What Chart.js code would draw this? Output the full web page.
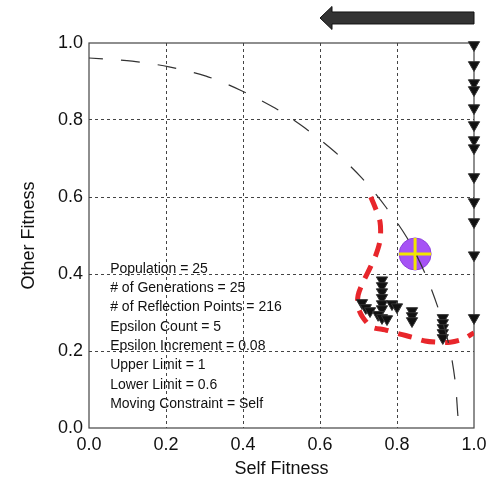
<!DOCTYPE html>
<html>
<head>
<meta charset="utf-8">
<title>Self vs Other Fitness</title>
<script src="https://cdn.jsdelivr.net/npm/chart.js"></script>
<style>
  html, body { margin: 0; padding: 0; background: #fff; }
  canvas { display: block; }
</style>
</head>
<body>
<canvas id="fitnessChart" width="494" height="480"></canvas>
<script>
// dashed black front
const frontX = [0, 0.112, 0.208, 0.304, 0.392, 0.483, 0.561, 0.639, 0.709, 0.771, 0.826, 0.870, 0.906, 0.935, 0.951, 0.958, 0.961];
const frontY = [0.961, 0.953, 0.938, 0.914, 0.878, 0.831, 0.779, 0.717, 0.649, 0.574, 0.494, 0.408, 0.314, 0.216, 0.122, 0.034, 0];

// red dashed trail
const trailX = [0.732, 0.743, 0.756, 0.756, 0.745, 0.730, 0.712, 0.699, 0.699, 0.712, 0.735, 0.769, 0.808, 0.839, 0.873, 0.904, 0.938, 0.971, 1.0];
const trailY = [0.600, 0.574, 0.535, 0.488, 0.449, 0.416, 0.379, 0.345, 0.314, 0.286, 0.262, 0.255, 0.244, 0.236, 0.226, 0.223, 0.223, 0.231, 0.247];

// reflection points (down triangles)
const reflX = [0.761, 0.761, 0.761, 0.761, 0.761, 0.761, 0.709, 0.719, 0.730, 0.751, 0.761, 0.774, 0.787, 0.800, 0.839, 0.839, 0.839,
  0.919, 0.919, 0.919, 0.919, 0.919,
  1, 1, 1, 1, 1, 1, 1, 1, 1, 1, 1, 1, 1];
const reflY = [0.384, 0.369, 0.353, 0.338, 0.322, 0.309, 0.325, 0.312, 0.304, 0.294, 0.286, 0.283, 0.322, 0.314, 0.304, 0.291, 0.278,
  0.286, 0.273, 0.260, 0.247, 0.234,
  0.995, 0.943, 0.896, 0.878, 0.831, 0.787, 0.748, 0.727, 0.652, 0.587, 0.535, 0.449, 0.286];

// target point
const targetX = [0.847];
const targetY = [0.452];

// direction arrow above the plot (data units)
const arrowTail = 1.0;
const arrowTip = 0.6;
const arrowY = 1.065;

const tickValues = [0, 0.2, 0.4, 0.6, 0.8, 1.0];

const infoX = 0.055;
const infoY = 0.403;
const infoLines = [
  'Population = 25',
  '# of Generations = 25',
  '# of Reflection Points = 216',
  'Epsilon Count = 5',
  'Epsilon Increment = 0.08',
  'Upper Limit = 1',
  'Lower Limit = 0.6',
  'Moving Constraint = Self'
];

function zip(xs, ys) {
  return xs.map((x, i) => ({ x: x, y: ys[i] }));
}

const FONT = '"Liberation Sans", Arial, Helvetica, sans-serif';

const framePlugin = {
  id: 'frame',
  beforeDatasetsDraw(chart) {
    const a = chart.chartArea;
    const ctx = chart.ctx;
    ctx.save();
    ctx.strokeStyle = '#444';
    ctx.lineWidth = 1.2;
    ctx.strokeRect(a.left, a.top, a.right - a.left, a.bottom - a.top);

    // info text
    const sx = chart.scales.x, sy = chart.scales.y;
    ctx.fillStyle = '#111';
    ctx.font = '14px ' + FONT;
    ctx.textBaseline = 'alphabetic';
    ctx.textAlign = 'left';
    const x0 = sx.getPixelForValue(infoX);
    const y0 = sy.getPixelForValue(infoY);
    infoLines.forEach((t, i) => ctx.fillText(t, x0, y0 + i * 19.3));
    ctx.restore();
  },
  afterDraw(chart) {
    const sx = chart.scales.x, sy = chart.scales.y;
    const ctx = chart.ctx;
    const xt = sx.getPixelForValue(arrowTail);
    const xh = sx.getPixelForValue(arrowTip);
    const y = sy.getPixelForValue(arrowY);
    const bodyH = 6, headH = 11.5, headL = 12;
    ctx.save();
    ctx.beginPath();
    ctx.moveTo(xt, y - bodyH);
    ctx.lineTo(xh + headL, y - bodyH);
    ctx.lineTo(xh + headL, y - headH);
    ctx.lineTo(xh, y);
    ctx.lineTo(xh + headL, y + headH);
    ctx.lineTo(xh + headL, y + bodyH);
    ctx.lineTo(xt, y + bodyH);
    ctx.closePath();
    ctx.fillStyle = '#333';
    ctx.fill();
    ctx.strokeStyle = '#111';
    ctx.lineWidth = 1;
    ctx.stroke();
    ctx.restore();
  }
};

const gridColor = c => (c.tick && (c.tick.value === 0 || c.tick.value === 1)) ? 'rgba(0,0,0,0)' : '#444';

new Chart(document.getElementById('fitnessChart'), {
  type: 'scatter',
  data: {
    datasets: [
      {
        label: 'front',
        data: zip(frontX, frontY),
        showLine: true,
        borderColor: '#333',
        borderWidth: 1.2,
        borderDash: [19, 18],
        borderDashOffset: 5,
        tension: 0.3,
        pointRadius: 0
      },
      {
        label: 'reflections',
        data: zip(reflX, reflY),
        pointStyle: 'triangle',
        rotation: 180,
        pointRadius: 6.5,
        backgroundColor: '#111',
        borderColor: '#333',
        borderWidth: 1,
        clip: false
      },
      {
        label: 'trail',
        data: zip(trailX, trailY),
        showLine: true,
        borderColor: '#e8262b',
        borderWidth: 5,
        borderDash: [14, 10],
        tension: 0.3,
        pointRadius: 0
      },
      {
        label: 'cross',
        data: zip(targetX, targetY),
        pointStyle: 'cross',
        pointRadius: 16,
        borderColor: '#f2e600',
        borderWidth: 3
      },
      {
        label: 'target',
        data: zip(targetX, targetY),
        pointStyle: 'circle',
        pointRadius: 16,
        backgroundColor: '#a652f5',
        borderColor: '#8c3fdc',
        borderWidth: 1
      }
    ]
  },
  options: {
    responsive: false,
    animation: false,
    layout: { padding: { top: 43, right: 20, left: 0, bottom: 0 } },
    plugins: {
      legend: { display: false },
      tooltip: { enabled: false }
    },
    scales: {
      x: {
        type: 'linear',
        min: 0,
        max: 1,
        afterFit: s => { s.height = 52; },
        afterBuildTicks: s => { s.ticks = tickValues.map(v => ({ value: v })); },
        ticks: {
          callback: v => v.toFixed(1),
          font: { family: FONT, size: 18 },
          color: '#111',
          padding: 6,
          maxRotation: 0
        },
        grid: { color: gridColor, lineWidth: 1, drawTicks: false },
        border: { display: false, dash: [3, 3] },
        title: {
          display: true,
          text: 'Self Fitness',
          font: { family: FONT, size: 18 },
          color: '#111',
          padding: { top: 0, bottom: 0 }
        }
      },
      y: {
        type: 'linear',
        min: 0,
        max: 1,
        afterFit: s => { s.width = 89; },
        afterBuildTicks: s => { s.ticks = tickValues.map(v => ({ value: v })); },
        ticks: {
          callback: v => v.toFixed(1),
          font: { family: FONT, size: 18 },
          color: '#111',
          padding: 6
        },
        grid: { color: gridColor, lineWidth: 1, drawTicks: false },
        border: { display: false, dash: [3, 3] },
        title: {
          display: true,
          text: 'Other Fitness',
          font: { family: FONT, size: 18 },
          color: '#111',
          padding: { top: 18, bottom: 0 }
        }
      }
    }
  },
  plugins: [framePlugin]
});
</script>
</body>
</html>
